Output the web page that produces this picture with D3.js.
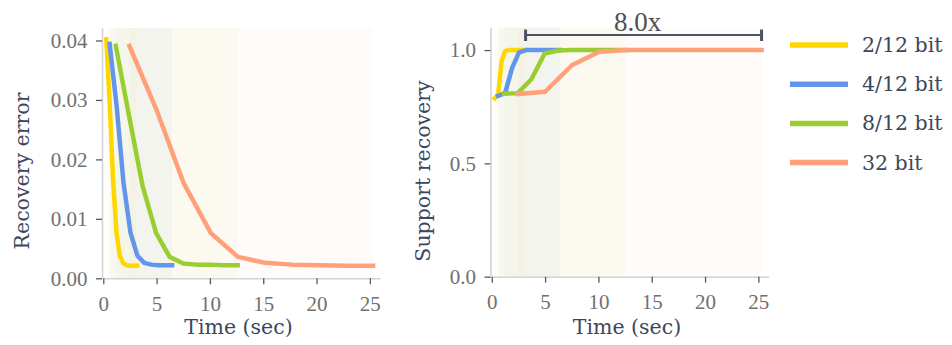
<!DOCTYPE html>
<html>
<head>
<meta charset="utf-8">
<script src="https://cdn.jsdelivr.net/npm/d3@7"></script>
<style>
  html, body { margin: 0; padding: 0; background: #ffffff; }
  svg { display: block; }
</style>
</head>
<body>
<svg id="chart" width="952" height="345"></svg>
<script>
// ---- data -------------------------------------------------------------
const seriesNames = ["2/12 bit", "4/12 bit", "8/12 bit", "32 bit"];
const seriesColors = ["#FFD700", "#6495ED", "#9ACD32", "#FFA07A"];

// elapsed time (sec) at each iteration
const time2 = [0.28, 0.60, 0.92, 1.24, 1.56, 1.89, 2.21, 2.53, 2.85, 3.17];
const time4 = [0.60, 1.25, 1.90, 2.55, 3.20, 3.85, 4.50, 5.15, 5.80, 6.45];
const time8 = [1.17, 2.43, 3.70, 4.96, 6.22, 7.49, 8.75, 10.01, 11.28, 12.60];
const time32 = [2.45, 5.00, 7.54, 10.09, 12.63, 15.17, 17.72, 20.26, 22.80, 25.30];

// recovery error per iteration
const err2 = [0.0402, 0.0295, 0.0165, 0.0076, 0.0037, 0.0025, 0.0022, 0.0021, 0.0021, 0.0021];
const err4 = [0.0394, 0.0290, 0.0160, 0.0077, 0.0038, 0.0026, 0.0023, 0.0022, 0.0022, 0.0022];
const err8 = [0.0391, 0.0272, 0.0154, 0.0076, 0.0036, 0.0025, 0.0023, 0.0023, 0.0022, 0.0022];
const err32 = [0.0391, 0.0283, 0.0160, 0.0076, 0.0036, 0.0026, 0.0023, 0.0022, 0.0021, 0.0021];

// support recovery per iteration
const sup2 = [0.787, 0.805, 0.950, 0.995, 1.000, 1.000, 1.000, 1.000, 1.000, 1.000];
const sup4 = [0.798, 0.810, 0.920, 0.990, 1.000, 1.000, 1.000, 1.000, 1.000, 1.000];
const sup8 = [0.808, 0.810, 0.870, 0.985, 0.998, 1.000, 1.000, 1.000, 1.000, 1.000];
const sup32 = [0.806, 0.816, 0.934, 0.993, 1.000, 1.000, 1.000, 1.000, 1.000, 1.000];

const xTicks = [0, 5, 10, 15, 20, 25];
const errTicks = [0, 0.01, 0.02, 0.03, 0.04];
const supTicks = [0, 0.5, 1.0];

// speed-up bracket: from fastest finish to slowest finish
const speedupSpan = [time2[time2.length - 1], time32[time32.length - 1]];
const speedupLabel = "8.0x";

const times = [time2, time4, time8, time32];
const errs = [err2, err4, err8, err32];
const sups = [sup2, sup4, sup8, sup32];

// ---- drawing ----------------------------------------------------------
const svg = d3.select("#chart");
const TICK_FONT = "'Liberation Serif', 'Times New Roman', serif";
const LABEL_FONT = "'DejaVu Serif', serif";
const LABEL_COLOR = "#3b4760";

function panel(opts) {
  const x = d3.scaleLinear().domain([-0.12, 25.95]).range(opts.xRange);
  const y = d3.scaleLinear().domain(opts.yDomain).range(opts.yRange);
  const g = svg.append("g");

  // shaded time spans, one per precision
  times.forEach((t, i) => {
    g.append("rect")
      .attr("x", x(t[0]))
      .attr("width", x(t[t.length - 1]) - x(t[0]))
      .attr("y", y.range()[1])
      .attr("height", y.range()[0] - y.range()[1])
      .attr("fill", seriesColors[i])
      .attr("fill-opacity", 0.045);
  });

  // axes
  const xAxis = g.append("g")
    .attr("transform", `translate(0,${y.range()[0]})`)
    .call(d3.axisBottom(x).tickValues(xTicks).tickFormat(d3.format("d")).tickSize(6).tickSizeOuter(0));
  const yAxis = g.append("g")
    .attr("transform", `translate(${x.range()[0]},0)`)
    .call(d3.axisLeft(y).tickValues(opts.yTicks).tickFormat(d3.format(opts.yFormat)).tickSize(6).tickPadding(8.5).tickSizeOuter(0));

  [xAxis, yAxis].forEach(a => {
    a.select(".domain").attr("stroke", "#d2d2d2").attr("stroke-width", 1.6);
    a.selectAll(".tick line").attr("stroke", "#5a5a5a").attr("stroke-width", 1.3);
    a.selectAll(".tick text")
      .attr("fill", "#707070")
      .style("font-family", TICK_FONT)
      .style("font-size", "21px");
  });
  xAxis.selectAll(".tick text").attr("y", 32.5).attr("dy", null);

  // series lines
  const line = d3.line().x(d => x(d[0])).y(d => y(d[1]));
  times.forEach((t, i) => {
    g.append("path")
      .datum(t.map((tv, k) => [tv, opts.values[i][k]]))
      .attr("d", line)
      .attr("fill", "none")
      .attr("stroke", seriesColors[i])
      .attr("stroke-width", 4.5)
      .attr("stroke-linejoin", "round")
      .attr("stroke-linecap", "square");
  });

  // axis titles
  const midX = (x.range()[0] + x.range()[1]) / 2;
  g.append("text")
    .attr("x", midX - 2.5)
    .attr("y", 334)
    .attr("text-anchor", "middle")
    .attr("fill", LABEL_COLOR)
    .style("font-family", LABEL_FONT)
    .style("font-size", "20.5px")
    .text("Time (sec)");
  g.append("text")
    .attr("transform", `translate(${opts.yTitleX},171) rotate(-90)`)
    .attr("text-anchor", "middle")
    .attr("fill", LABEL_COLOR)
    .style("font-family", LABEL_FONT)
    .style("font-size", "20.5px")
    .text(opts.yTitle);

  return { x, y, g };
}

panel({
  xRange: [102, 380],
  yDomain: [0, 0.0421],
  yRange: [278.3, 28],
  yTicks: errTicks,
  yFormat: ".2f",
  values: errs,
  yTitle: "Recovery error",
  yTitleX: 29
});

const right = panel({
  xRange: [490.5, 768.5],
  yDomain: [0, 1.1],
  yRange: [276.7, 27.4],
  yTicks: supTicks,
  yFormat: ".1f",
  values: sups,
  yTitle: "Support recovery",
  yTitleX: 430
});

// speed-up bracket
const bx0 = right.x(speedupSpan[0]);
const bx1 = right.x(speedupSpan[1]);
const by = 35;
const bracket = right.g.append("g").attr("stroke", "#4b5263");
bracket.append("line").attr("x1", bx0).attr("x2", bx1).attr("y1", by).attr("y2", by).attr("stroke-width", 2);
[bx0, bx1].forEach(bx => {
  bracket.append("line").attr("x1", bx).attr("x2", bx).attr("y1", by - 5.5).attr("y2", by + 6).attr("stroke-width", 3);
});
right.g.append("text")
  .attr("x", (bx0 + bx1) / 2 - 6)
  .attr("y", 30.5)
  .attr("text-anchor", "middle")
  .attr("fill", "#505050")
  .style("font-family", TICK_FONT)
  .style("font-size", "27px")
  .text(speedupLabel);

// legend
const legend = svg.append("g").attr("transform", "translate(790,45)");
seriesNames.forEach((name, i) => {
  const row = legend.append("g").attr("transform", `translate(0,${i * 39.2})`);
  row.append("line")
    .attr("x1", 0).attr("x2", 58).attr("y1", 0).attr("y2", 0)
    .attr("stroke", seriesColors[i]).attr("stroke-width", 5.5);
  row.append("text")
    .attr("x", 72).attr("y", 7)
    .attr("fill", LABEL_COLOR)
    .style("font-family", LABEL_FONT)
    .style("font-size", "20.5px")
    .text(name);
});
</script>
</body>
</html>
